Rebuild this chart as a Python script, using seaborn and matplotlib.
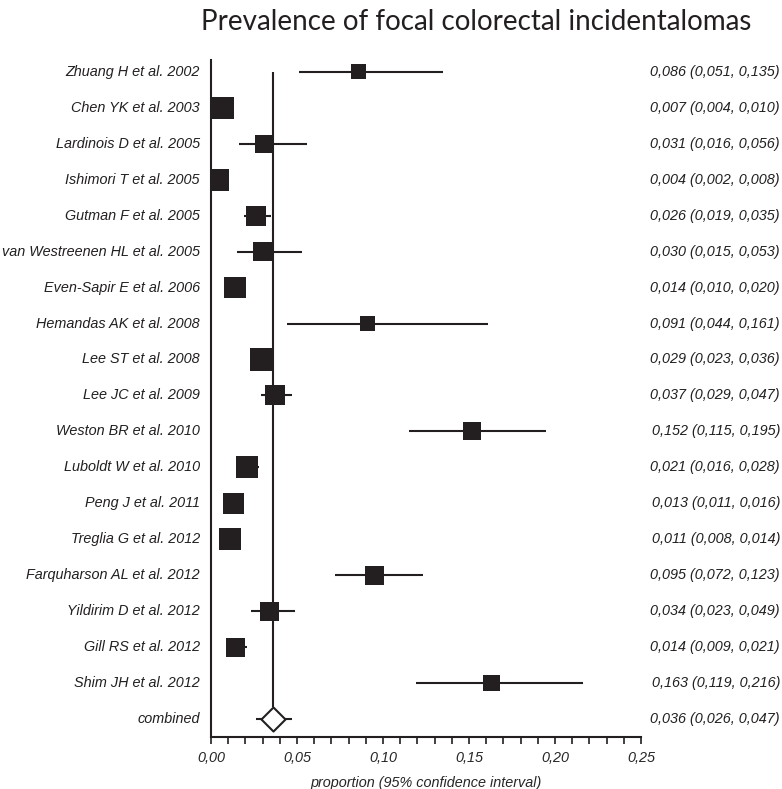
import numpy as np
import pandas as pd
import matplotlib
matplotlib.use("Agg")
import matplotlib.pyplot as plt
import seaborn as sns
from matplotlib.ticker import MultipleLocator, FuncFormatter
import matplotlib.transforms as mtransforms

# ---- DATA ----
studies = [
    "Zhuang H et al. 2002", "Chen YK et al. 2003", "Lardinois D et al. 2005",
    "Ishimori T et al. 2005", "Gutman F et al. 2005", "van Westreenen HL et al. 2005",
    "Even-Sapir E et al. 2006", "Hemandas AK et al. 2008", "Lee ST et al. 2008",
    "Lee JC et al. 2009", "Weston BR et al. 2010", "Luboldt W et al. 2010",
    "Peng J et al. 2011", "Treglia G et al. 2012", "Farquharson AL et al. 2012",
    "Yildirim D et al. 2012", "Gill RS et al. 2012", "Shim JH et al. 2012",
]
proportion = [0.086, 0.007, 0.031, 0.004, 0.026, 0.030, 0.014, 0.091, 0.029,
              0.037, 0.152, 0.021, 0.013, 0.011, 0.095, 0.034, 0.014, 0.163]
ci_low = [0.051, 0.004, 0.016, 0.002, 0.019, 0.015, 0.010, 0.044, 0.023,
          0.029, 0.115, 0.016, 0.011, 0.008, 0.072, 0.023, 0.009, 0.119]
ci_high = [0.135, 0.010, 0.056, 0.008, 0.035, 0.053, 0.020, 0.161, 0.036,
           0.047, 0.195, 0.028, 0.016, 0.014, 0.123, 0.049, 0.021, 0.216]
# relative study weights (%), read from the square areas
weight = [3.3, 7.1, 4.7, 6.9, 5.8, 5.3, 6.9, 2.9, 7.1,
          5.8, 4.7, 6.9, 6.2, 6.9, 5.4, 5.1, 5.3, 3.9]

combined_label = "combined"
combined_est = 0.036
combined_low = 0.026
combined_high = 0.047

INK = "#231f20"
FS = 10.4


def comma(v, digits=3):
    return f"{v:.{digits}f}".replace(".", ",")


def main():
    sns.set_style("ticks")
    plt.rcParams["font.family"] = ["Liberation Sans", "DejaVu Sans"]

    labels = studies + [combined_label]
    rows = np.arange(len(labels))
    df = pd.DataFrame({
        "study": studies,
        "row": rows[:-1],
        "est": proportion,
        "lo": ci_low,
        "hi": ci_high,
        "weight": weight,
    })

    fig = plt.figure(figsize=(7.82, 7.89), dpi=100)
    ax = fig.add_axes([211 / 782, 52 / 789, 430 / 782, 677 / 789])

    # confidence intervals
    ax.hlines(df["row"], df["lo"], df["hi"], color=INK, lw=1.5, zorder=2)
    ax.hlines(rows[-1], combined_low, combined_high, color=INK, lw=1.5, zorder=2)

    # pooled estimate line
    ax.vlines(combined_est, rows[0], rows[-1] - 0.33, color=INK, lw=1.5, zorder=1)

    # weighted squares
    wmax = max(weight)
    sns.scatterplot(data=df, x="est", y="row", size="weight",
                    sizes=(0, wmax * 35.5), size_norm=(0, wmax),
                    marker="s", color=INK, edgecolor="none", legend=False,
                    ax=ax, zorder=3)

    # pooled diamond
    ax.scatter([combined_est], [rows[-1]], s=300,
               marker=[(0, 1), (1, 0), (0, -1), (-1, 0), (0, 1)],
               facecolor="white", edgecolor=INK, linewidths=1.5, zorder=4)

    ax.set_xlim(0, 0.25)
    ax.set_ylim(len(labels) - 0.5, -0.33)
    ax.xaxis.set_major_locator(MultipleLocator(0.05))
    ax.xaxis.set_minor_locator(MultipleLocator(0.01))
    ax.xaxis.set_major_formatter(FuncFormatter(lambda v, p: comma(v, 2)))
    ax.tick_params(axis="x", which="both", length=5, width=1.2, color=INK,
                   direction="out", labelsize=FS, pad=5)
    for lab in ax.get_xticklabels():
        lab.set_fontstyle("italic")
    ax.set_yticks([])
    ax.set_ylabel("")
    ax.set_xlabel("proportion (95% confidence interval)", fontsize=FS,
                  fontstyle="italic", labelpad=8)
    for side in ["top", "right"]:
        ax.spines[side].set_visible(False)
    for side in ["left", "bottom"]:
        ax.spines[side].set_color(INK)
        ax.spines[side].set_linewidth(1.5)

    trans = mtransforms.blended_transform_factory(ax.transAxes, ax.transData)
    texts = [f"{comma(e)} ({comma(l)}, {comma(h)})"
             for e, l, h in zip(proportion, ci_low, ci_high)]
    texts.append(f"{comma(combined_est)} ({comma(combined_low)}, {comma(combined_high)})")
    for r, name, val in zip(rows, labels, texts):
        ax.text(-0.026, r, name, transform=trans, ha="right", va="center",
                fontsize=FS, fontstyle="italic", color=INK)
        ax.text(1.323, r, val, transform=trans, ha="right", va="center",
                fontsize=FS, fontstyle="italic", color=INK)

    fig.text(476 / 782, 1 - 22 / 789, "Prevalence of focal colorectal incidentalomas",
             ha="center", va="center", fontsize=20,
             family=["Lato", "DejaVu Sans"], color=INK)

    fig.savefig("out.png", dpi=100)


if __name__ == "__main__":
    main()
